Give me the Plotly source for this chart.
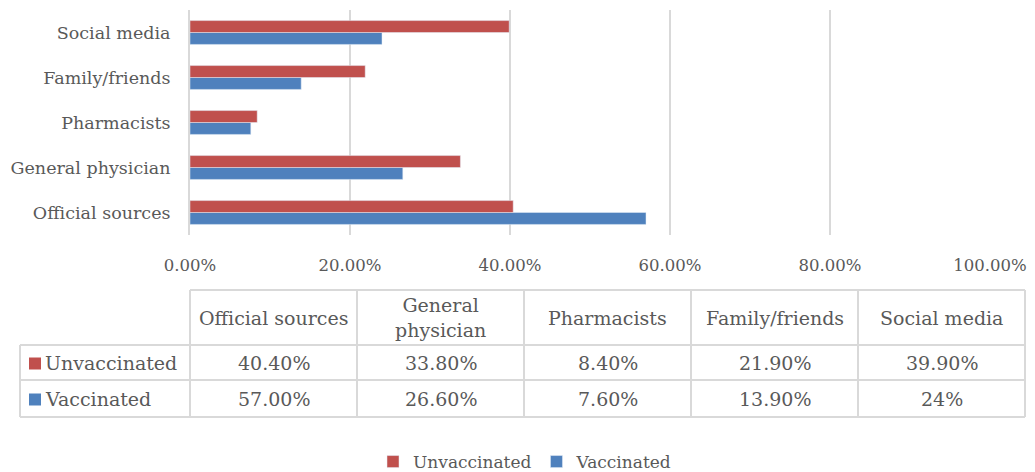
import plotly.graph_objects as go

categories = ["Official sources", "General physician", "Pharmacists", "Family/friends", "Social media"]
header_labels = ["Official sources", "General<br>physician", "Pharmacists", "Family/friends", "Social media"]
series_names = ["Unvaccinated", "Vaccinated"]
unvaccinated = [0.404, 0.338, 0.084, 0.219, 0.399]
vaccinated = [0.570, 0.266, 0.076, 0.139, 0.24]
unvaccinated_text = ["40.40%", "33.80%", "8.40%", "21.90%", "39.90%"]
vaccinated_text = ["57.00%", "26.60%", "7.60%", "13.90%", "24%"]
x_ticks = [0, 0.2, 0.4, 0.6, 0.8, 1.0]

RED = "#C0504D"
BLUE = "#4F81BD"
GRID = "#D9D9D9"
TXT = "#595959"
FONT = "DejaVu Serif"

OFF = 8  # page body margin
W, H = 1035 - OFF, 472 - OFF
# plot area in screenshot pixels
PX0, PX1, PY0, PY1 = 190, 990, 10, 235
L = PX0 - OFF
R = W - (PX1 - OFF)
T = PY0 - OFF
B = H - (PY1 - OFF)
PW = PX1 - PX0
PH = PY1 - PY0


def px_x(x):
    return (x - PX0) / PW


def px_y(y):
    return (PY1 - y) / PH


fig = go.Figure()
fig.add_trace(go.Bar(y=categories, x=vaccinated, name=series_names[1], orientation="h",
                     marker=dict(color=BLUE)))
fig.add_trace(go.Bar(y=categories, x=unvaccinated, name=series_names[0], orientation="h",
                     marker=dict(color=RED)))

shapes = []
annotations = []
line = dict(color=GRID, width=2)

# table geometry (screenshot pixels)
tbl_left = 20
col_left = 190
tbl_right = 1025
ncol = len(categories)
colw = (tbl_right - col_left) / ncol
row_y = [290, 345, 380, 417]

shapes.append(dict(type="line", xref="paper", yref="paper", x0=px_x(col_left), x1=px_x(tbl_right),
                   y0=px_y(row_y[0]), y1=px_y(row_y[0]), line=line))
for yy in row_y[1:]:
    shapes.append(dict(type="line", xref="paper", yref="paper", x0=px_x(tbl_left), x1=px_x(tbl_right),
                       y0=px_y(yy), y1=px_y(yy), line=line))
shapes.append(dict(type="line", xref="paper", yref="paper", x0=px_x(tbl_left), x1=px_x(tbl_left),
                   y0=px_y(row_y[1]), y1=px_y(row_y[3]), line=line))
for i in range(ncol + 1):
    xx = col_left + i * colw
    shapes.append(dict(type="line", xref="paper", yref="paper", x0=px_x(xx), x1=px_x(xx),
                       y0=px_y(row_y[0]), y1=px_y(row_y[3]), line=line))

tfont = dict(family=FONT, size=19, color=TXT)
for i, lab in enumerate(header_labels):
    cx = col_left + (i + 0.5) * colw
    annotations.append(dict(x=px_x(cx), y=px_y((row_y[0] + row_y[1]) / 2), xref="paper", yref="paper",
                            text=lab, showarrow=False, font=tfont, xanchor="center", yanchor="middle"))
rows = [(series_names[0], unvaccinated_text, RED), (series_names[1], vaccinated_text, BLUE)]
for r, (name, vals, col) in enumerate(rows):
    cy = (row_y[r + 1] + row_y[r + 2]) / 2
    shapes.append(dict(type="rect", xref="paper", yref="paper", x0=px_x(29), x1=px_x(41),
                       y0=px_y(cy - 5), y1=px_y(cy + 7), fillcolor=col, line=dict(width=0)))
    annotations.append(dict(x=px_x(43), y=px_y(cy), xref="paper", yref="paper", text=name,
                            showarrow=False, font=tfont, xanchor="left", yanchor="middle"))
    for i, v in enumerate(vals):
        cx = col_left + (i + 0.5) * colw
        annotations.append(dict(x=px_x(cx), y=px_y(cy), xref="paper", yref="paper", text=v,
                                showarrow=False, font=tfont, xanchor="center", yanchor="middle"))

fig.update_layout(
    width=W, height=H,
    margin=dict(l=L, r=R, t=T, b=B, autoexpand=False),
    paper_bgcolor="white", plot_bgcolor="white",
    barmode="group", bargap=0.47, bargroupgap=0,
    font=dict(family=FONT, size=16, color=TXT),
    xaxis=dict(range=[0, 1], tickvals=x_ticks, tickformat=".2%", showgrid=True, gridcolor=GRID,
               gridwidth=2, zeroline=False, showline=False, ticks="", ticklabelstandoff=18,
               tickfont=dict(family=FONT, size=16.5, color=TXT)),
    yaxis=dict(showline=True, linecolor=GRID, linewidth=2, ticks="", showgrid=False,
               tickfont=dict(family=FONT, size=17.5, color=TXT), ticklabelstandoff=14),
    legend=dict(orientation="h", x=px_x(525), xanchor="center", y=px_y(462), yanchor="middle",
                itemwidth=30, traceorder="reversed", font=dict(family=FONT, size=17, color=TXT)),
    shapes=shapes, annotations=annotations,
)
fig.write_html("out.html")
